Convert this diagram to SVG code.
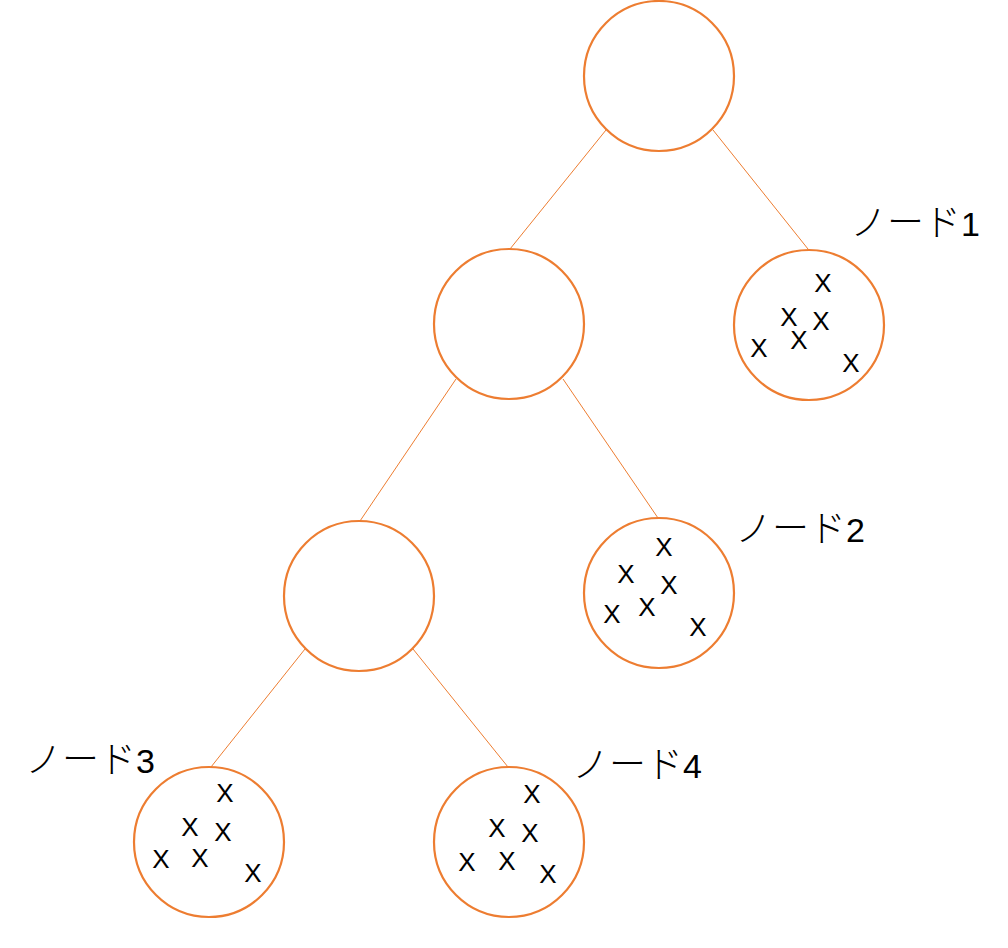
<svg xmlns="http://www.w3.org/2000/svg" width="1008" height="948" viewBox="0 0 1008 948">
<style>
.node{fill:#fff;stroke:#ED7D31;stroke-width:2.2}
.edge{stroke:#ED7D31;stroke-width:1;fill:none}
.x{font-family:"Liberation Sans",Arial,sans-serif;font-size:26px;fill:#000;text-anchor:middle}
.lbl{fill:#000}
.kana{font-family:"Noto Sans CJK JP",sans-serif;font-size:37px;font-weight:300}
.num{font-family:"Liberation Sans",Arial,sans-serif;font-size:34px}
</style>
<rect width="1008" height="948" fill="#fff"/>
<g id="connectors">
<line class="edge" x1="606" y1="130" x2="510" y2="249"/>
<line class="edge" x1="713" y1="130" x2="808" y2="249"/>
<line class="edge" x1="456" y1="379" x2="360" y2="521"/>
<line class="edge" x1="563" y1="379" x2="658" y2="518"/>
<line class="edge" x1="305" y1="649" x2="211" y2="767"/>
<line class="edge" x1="413" y1="649" x2="508" y2="767"/>
</g>
<g id="root"><circle class="node" cx="659" cy="76" r="75"/></g>
<g id="inner1"><circle class="node" cx="509" cy="324" r="75"/></g>
<g id="inner2"><circle class="node" cx="359" cy="596" r="75"/></g>
<g id="node1">
<circle class="node" cx="809" cy="325" r="75"/>
<text class="x" x="823" y="292">X</text>
<text class="x" x="789" y="326">X</text>
<text class="x" x="821" y="330">X</text>
<text class="x" x="799" y="349">X</text>
<text class="x" x="759" y="357">X</text>
<text class="x" x="851" y="372">X</text>
<text class="lbl" x="850" y="236"><tspan class="kana">ノード</tspan><tspan class="num">1</tspan></text>
</g>
<g id="node2">
<circle class="node" cx="659" cy="593" r="75"/>
<text class="x" x="664" y="556">X</text>
<text class="x" x="626" y="583">X</text>
<text class="x" x="669" y="594">X</text>
<text class="x" x="647" y="616">X</text>
<text class="x" x="612" y="623">X</text>
<text class="x" x="698" y="636">X</text>
<text class="lbl" x="735" y="542"><tspan class="kana">ノード</tspan><tspan class="num">2</tspan></text>
</g>
<g id="node3">
<circle class="node" cx="209" cy="842" r="75"/>
<text class="x" x="225" y="802">X</text>
<text class="x" x="190" y="836">X</text>
<text class="x" x="223" y="841">X</text>
<text class="x" x="200" y="867">X</text>
<text class="x" x="161" y="868">X</text>
<text class="x" x="253" y="882">X</text>
<text class="lbl" x="25" y="773"><tspan class="kana">ノード</tspan><tspan class="num">3</tspan></text>
</g>
<g id="node4">
<circle class="node" cx="509" cy="842" r="75"/>
<text class="x" x="532" y="803">X</text>
<text class="x" x="497" y="837">X</text>
<text class="x" x="530" y="842">X</text>
<text class="x" x="507" y="870">X</text>
<text class="x" x="467" y="871">X</text>
<text class="x" x="548" y="883">X</text>
<text class="lbl" x="572" y="778"><tspan class="kana">ノード</tspan><tspan class="num">4</tspan></text>
</g>
</svg>
